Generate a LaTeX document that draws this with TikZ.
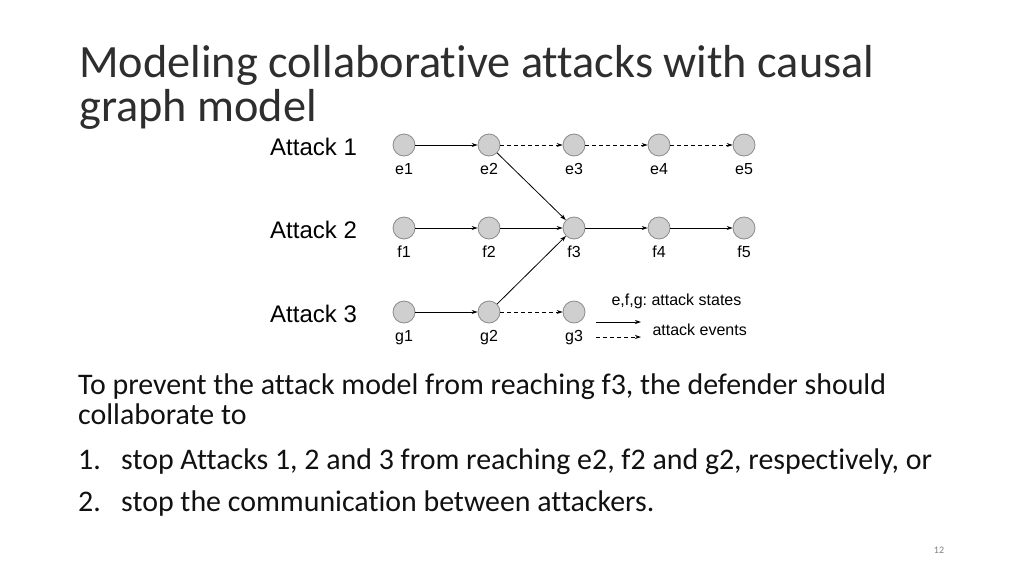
\documentclass[tikz,border=0pt]{standalone}
\usepackage{fontspec}
\setmainfont[Ligatures=NoCommon]{Carlito}
\newfontfamily\diagfont{Liberation Sans}
\usetikzlibrary{arrows.meta}
\frenchspacing
\definecolor{stategray}{HTML}{CFCFCF}
\definecolor{rimgray}{HTML}{8A8A8A}
\definecolor{textgray}{HTML}{111111}
\definecolor{titlegray}{HTML}{2E2E2E}
\tikzset{
  state/.style={circle,draw=rimgray,fill=stategray,line width=0.8pt,minimum size=22pt,inner sep=0pt},
  statelabel/.style={font=\diagfont\fontsize{16}{19}\selectfont,anchor=base},
  attacklabel/.style={font=\diagfont\fontsize{24}{28}\selectfont,anchor=base west},
  event/.style={-{Stealth[length=6pt,width=4pt]},line width=0.8pt},
  pending/.style={event,dashed,dash pattern=on 4pt off 3pt},
  bodyline/.style={font=\fontsize{29.9}{34}\selectfont,anchor=base west,inner sep=0pt,text=textgray}
}
\begin{document}
\begin{tikzpicture}[x=1pt,y=-1pt]
\useasboundingbox[fill=white] (0,0) rectangle (1024,576);
% title
\node[bodyline,font=\fontsize{46.3}{54}\selectfont,text=titlegray] (title1) at (79,77) {Modeling collaborative attacks with causal};
\node[bodyline,font=\fontsize{46.3}{54}\selectfont,text=titlegray] (title2) at (79,121) {graph model};
% attack rows
\node[attacklabel,inner sep=0pt] (atk1) at (270,155) {Attack 1};
\node[attacklabel,inner sep=0pt] (atk2) at (270,238) {Attack 2};
\node[attacklabel,inner sep=0pt] (atk3) at (270,322) {Attack 3};
% attack 1
\node[state] (e1) at (404,145) {};
\node[state] (e2) at (489,145) {};
\node[state] (e3) at (574,145) {};
\node[state] (e4) at (659,145) {};
\node[state] (e5) at (744,145) {};
% attack 2
\node[state] (f1) at (404,228) {};
\node[state] (f2) at (489,228) {};
\node[state] (f3) at (574,228) {};
\node[state] (f4) at (659,228) {};
\node[state] (f5) at (744,228) {};
% attack 3
\node[state] (g1) at (404,312) {};
\node[state] (g2) at (489,312) {};
\node[state] (g3) at (574,312) {};
% state names
\foreach \s in {e1,e2,e3,e4,e5,f1,f2,f3,f4,f5,g1,g2,g3}
  \node[statelabel] at ([yshift=-29pt]\s.center) {\s};
% events
\draw[event] (e1) -- (e2);
\draw[pending] (e2) -- (e3);
\draw[pending] (e3) -- (e4);
\draw[pending] (e4) -- (e5);
\draw[event] (f1) -- (f2);
\draw[event] (f2) -- (f3);
\draw[event] (f3) -- (f4);
\draw[event] (f4) -- (f5);
\draw[event] (g1) -- (g2);
\draw[pending] (g2) -- (g3);
\draw[event] (e2) -- (f3);
\draw[event] (g2) -- (f3);
% legend
\node[statelabel,anchor=base west] (legstates) at (608,305) {e,f,g: attack states};
\node[statelabel,anchor=base west] (legevents) at (649,335) {attack events};
\coordinate (solidA) at (596,322);
\coordinate (solidB) at (641,322);
\coordinate (dashA) at (596,337);
\coordinate (dashB) at (641,337);
\draw[event] (solidA) -- (solidB);
\draw[pending] (dashA) -- (dashB);
% body text
\node[bodyline] (line1) at (78,394) {To prevent the attack model from reaching f3, the defender should};
\node[bodyline] (line2) at (78,424) {collaborate to};
\node[bodyline] (num1) at (78,469) {1.};
\node[bodyline] (item1) at (121,469) {stop Attacks 1, 2 and 3 from reaching e2, f2 and g2, respectively, or};
\node[bodyline] (num2) at (78,511) {2.};
\node[bodyline] (item2) at (121,511) {stop the communication between attackers.};
% page number
\node[font=\fontsize{10}{12}\selectfont,text=gray,anchor=base] (pagenum) at (939,553) {12};
\end{tikzpicture}
\end{document}
